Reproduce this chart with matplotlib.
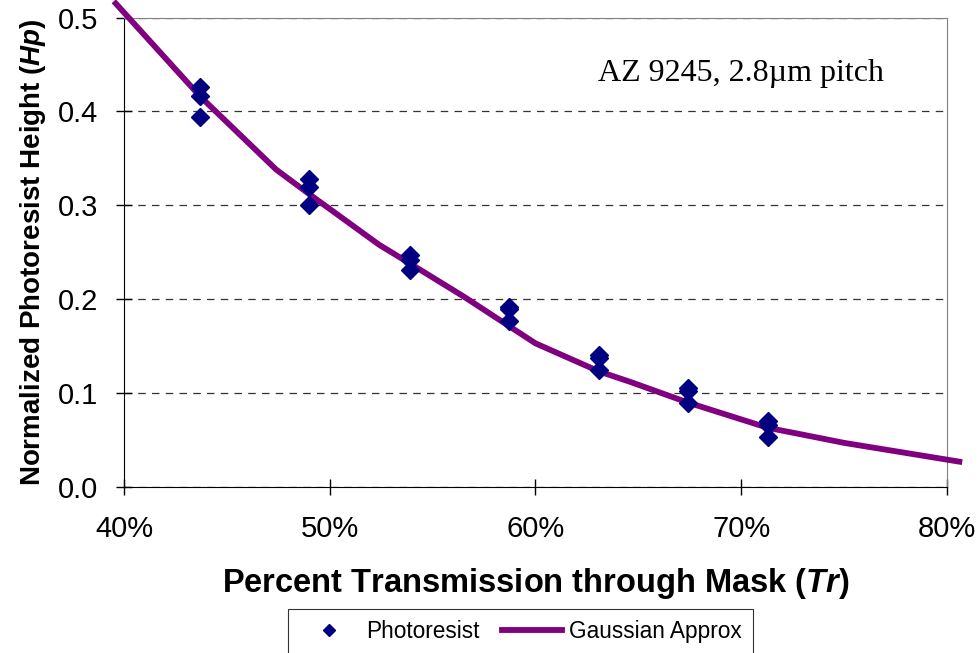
import matplotlib.pyplot as plt
import numpy as np

plt.rcParams['font.family'] = ['Liberation Sans', 'DejaVu Sans']
plt.rcParams['mathtext.fontset'] = 'custom'
plt.rcParams['mathtext.it'] = 'Liberation Sans:italic:bold'
plt.rcParams['mathtext.rm'] = 'Liberation Sans:bold'

# --- данные: измеренные точки ---
tr_points = [0.437, 0.437, 0.437,
             0.490, 0.490, 0.490,
             0.539, 0.539, 0.539,
             0.587, 0.587, 0.587,
             0.631, 0.631, 0.631,
             0.674, 0.674, 0.674,
             0.713, 0.713, 0.713]
hp_points = [0.426, 0.416, 0.394,
             0.328, 0.319, 0.300,
             0.247, 0.242, 0.231,
             0.192, 0.190, 0.177,
             0.141, 0.137, 0.125,
             0.105, 0.102, 0.089,
             0.070, 0.066, 0.053]

# --- гауссова аппроксимация ---
tr_fit = [0.396, 0.437, 0.474, 0.490, 0.524, 0.539, 0.565, 0.600,
          0.631, 0.646, 0.674, 0.713, 0.727, 0.750, 0.806]
hp_fit = [0.515, 0.416, 0.338, 0.312, 0.258, 0.238, 0.203, 0.153,
          0.123, 0.112, 0.090, 0.063, 0.057, 0.047, 0.027]

x_ticks = [0.4, 0.5, 0.6, 0.7, 0.8]
x_tick_labels = ['40%', '50%', '60%', '70%', '80%']
y_ticks = [0.0, 0.1, 0.2, 0.3, 0.4, 0.5]
y_tick_labels = ['0.0', '0.1', '0.2', '0.3', '0.4', '0.5']

fig = plt.figure(figsize=(9.8, 6.53), dpi=100, facecolor='white')
ax = fig.add_axes([0.1265, 0.2542, 0.8398, 0.719])

ax.plot(tr_fit, hp_fit, color='#800080', lw=4.2, clip_on=False, zorder=3,
        label='Gaussian Approx')
ax.plot(tr_points, hp_points, ls='none', marker='D', ms=9.5, color='#000080',
        mec='#000080', zorder=4, label='Photoresist')

ax.set_xlim(0.4, 0.8)
ax.set_ylim(0.0, 0.5)
ax.set_xticks(x_ticks)
ax.set_xticklabels(x_tick_labels)
ax.set_yticks(y_ticks)
ax.set_yticklabels(y_tick_labels)
ax.tick_params(axis='both', direction='inout', length=12, width=1, labelsize=21)
ax.tick_params(axis='x', pad=14)
ax.tick_params(axis='y', pad=12.5)

ax.yaxis.grid(True, ls=(0, (6, 5)), color='#333333', lw=0.9)
ax.set_axisbelow(True)

for side in ['top', 'right']:
    ax.spines[side].set_color('#808080')
for side in ['bottom', 'left']:
    ax.spines[side].set_color('black')

ax.set_xlabel('Percent Transmission through Mask ($\\it{Tr}$)',
              fontsize=23.5, fontweight='bold', labelpad=17)
ax.set_ylabel('Normalized Photoresist Height ($\\it{Hp}$)',
              fontsize=20, fontweight='bold', labelpad=7)

ax.text(0.6998, 0.440, 'AZ 9245, 2.8\u00b5m pitch', fontsize=23,
        family=['Liberation Serif', 'DejaVu Serif'], ha='center', va='center')

handles, labels = ax.get_legend_handles_labels()
leg = fig.legend([handles[1], handles[0]], [labels[1], labels[0]],
                 loc='upper left', bbox_to_anchor=(288 / 980, 1 - 609 / 653),
                 ncol=2, fontsize=16.3, frameon=True, fancybox=False,
                 edgecolor='black', borderaxespad=0, handlelength=2.65,
                 handletextpad=0.3, columnspacing=1.0, markerscale=0.6,
                 borderpad=0.5)
leg.get_frame().set_linewidth(0.8)

plt.savefig('out.png', dpi=100, facecolor='white')
